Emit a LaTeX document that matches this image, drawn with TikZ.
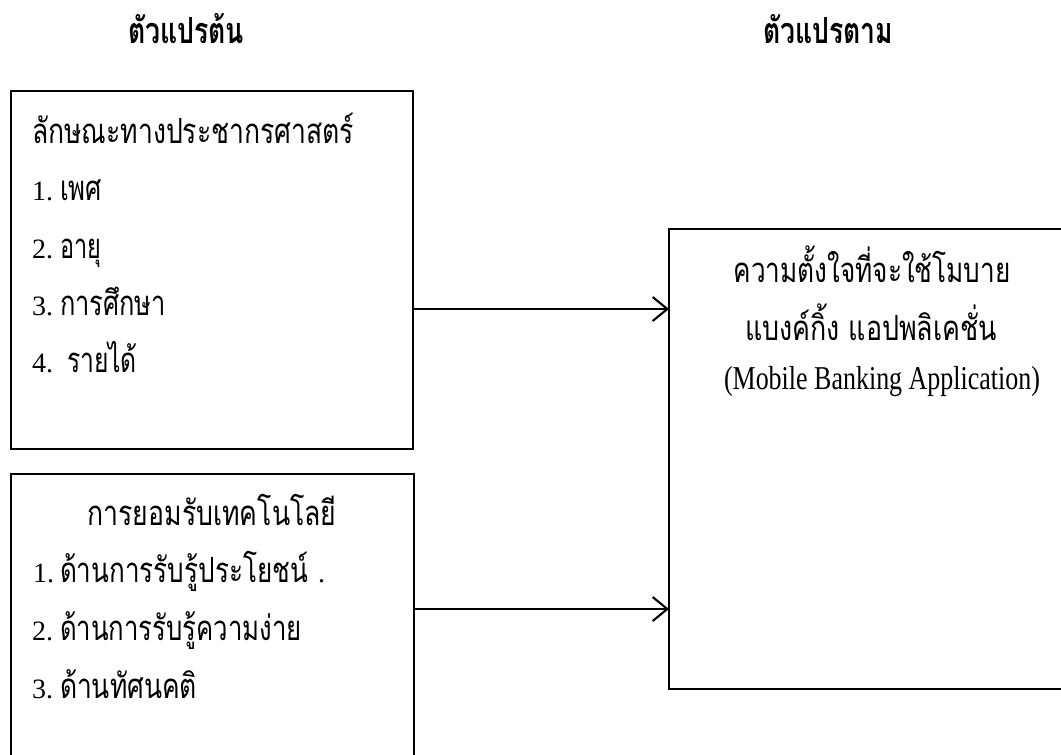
\documentclass[tikz,border=0pt]{standalone}
\usepackage{fontspec}
\usepackage{graphicx}
\setmainfont{Liberation Serif}
\newfontfamily\thaifont[Script=Thai]{Loma}
\usetikzlibrary{arrows.meta}
\newlength\pxu
\setlength\pxu{0.75pt}
\newcommand\fitw[2]{\resizebox{#1\pxu}{\height}{#2}}
\newcommand\lat[1]{{\rmfamily\fontsize{21}{24}\selectfont #1}}
\newcommand\numline[3]{\lat{#1}\hspace{#2\pxu}#3}
\tikzset{
  boxn/.style={draw, line width=0.9pt, inner sep=0pt, outer sep=0pt},
  txt/.style={inner sep=0pt, outer sep=0pt, font=\thaifont\fontsize{26}{30}\selectfont},
  hdr/.style={inner sep=0pt, outer sep=0pt, font=\thaifont\bfseries\fontsize{27}{30}\selectfont},
  lattxt/.style={inner sep=0pt, outer sep=0pt, font=\rmfamily\fontsize{25}{30}\selectfont},
  arr/.style={line width=2pt, -{Straight Barb[length=11pt,width=18pt,line width=1.6pt]}},
}
\begin{document}
\begin{tikzpicture}[x=0.75pt,y=-0.75pt]
\useasboundingbox (0,0) rectangle (1061,754);
% boxes
\node[boxn, minimum width=402\pxu, minimum height=358\pxu] (b1) at (212,270) {};
\node[boxn, minimum width=403\pxu, minimum height=330\pxu] (b2) at (212.5,639) {};
\node[boxn, minimum width=420\pxu, minimum height=460\pxu] (rb) at (879,459) {};
% headers
\node[hdr, anchor=base] (h1) at (186,43) {\fitw{116}{ตัวแปรต้น}};
\node[hdr, anchor=base] (h2) at (828,43) {\fitw{130}{ตัวแปรตาม}};
% box 1 text
\node[txt, anchor=base west] (t0) at (32,143) {\fitw{322}{ลักษณะทางประชากรศาสตร์}};
\node[txt, anchor=base west] (t1) at (32,200) {\numline{1.}{7}{\fitw{42}{เพศ}}};
\node[txt, anchor=base west] (t2) at (32,258) {\numline{2.}{7}{\fitw{41}{อายุ}}};
\node[txt, anchor=base west] (t3) at (32,315) {\numline{3.}{7}{\fitw{106}{การศึกษา}}};
\node[txt, anchor=base west] (t4) at (32,372) {\numline{4.}{14}{\fitw{70}{รายได้}}};
% box 2 text
\node[txt, anchor=base] (u0) at (212,525) {\fitw{249}{การยอมรับเทคโนโลยี}};
\node[txt, anchor=base west] (u1) at (33,582) {\numline{1.}{6}{\fitw{248}{ด้านการรับรู้ประโยชน์}}\hspace{10\pxu}\lat{.}};
\node[txt, anchor=base west] (u2) at (32,640) {\numline{2.}{7}{\fitw{242}{ด้านการรับรู้ความง่าย}}};
\node[txt, anchor=base west] (u3) at (32,698) {\numline{3.}{7}{\fitw{137}{ด้านทัศนคติ}}};
% right box text
\node[txt, anchor=base] (r1) at (872,282) {\fitw{277}{ความตั้งใจที่จะใช้โมบาย}};
\node[txt, anchor=base] (r2) at (871,340) {\fitw{252}{แบงค์กิ้ง แอปพลิเคชั่น}};
\node[lattxt, anchor=base] (r3) at (882,389) {\fitw{316}{(Mobile Banking Application)}};
% arrows
\coordinate (a1) at (0,309);
\coordinate (a2) at (0,609);
\draw[arr] (b1.east |- a1) -- (rb.west |- a1);
\draw[arr] (b2.east |- a2) -- (rb.west |- a2);
\end{tikzpicture}
\end{document}
